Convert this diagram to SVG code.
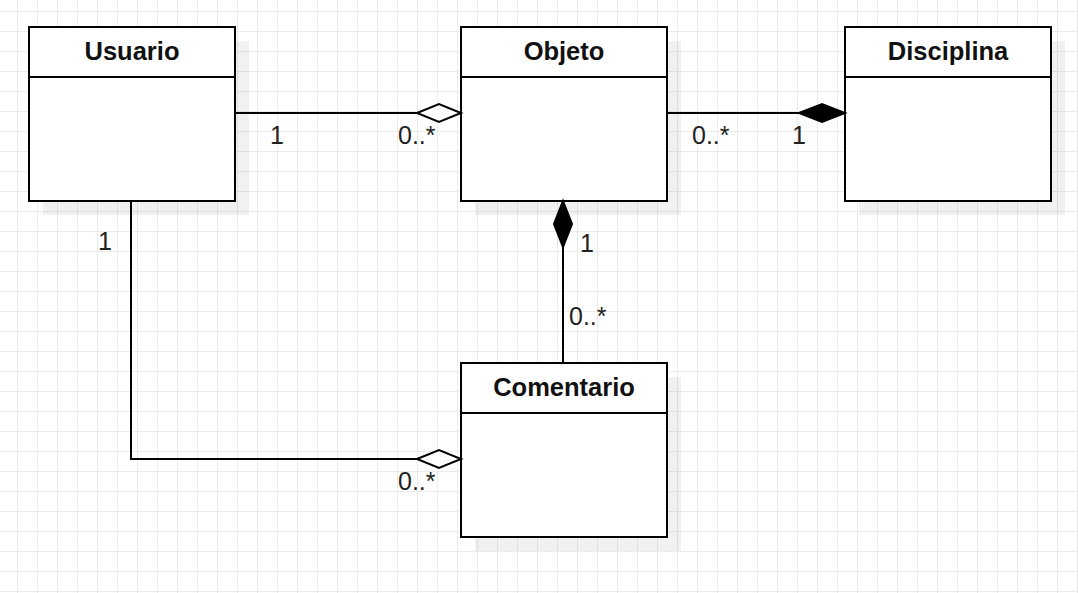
<svg xmlns="http://www.w3.org/2000/svg" width="1078" height="593" viewBox="0 0 1078 593">
<style>
.box{fill:#fff;stroke:#000;stroke-width:2}
.shadow{fill:#000;fill-opacity:0.055}
.hdr{stroke:#000;stroke-width:2}
.title{font-family:"Liberation Sans",Arial,sans-serif;font-weight:bold;font-size:25.5px;fill:#111;text-anchor:middle}
.edge{fill:none;stroke:#000;stroke-width:2}
.open{fill:#fff;stroke:#000;stroke-width:2}
.filled{fill:#000;stroke:#000;stroke-width:2}
.lbl{font-family:"Liberation Sans",Arial,sans-serif;font-size:25px;fill:#222}
</style>
<defs>
<pattern id="grid" width="20" height="20" x="17" y="11" patternUnits="userSpaceOnUse">
<path d="M0 0.5H20M0.5 0V20" stroke="#ebebeb" stroke-width="1" fill="none"/>
</pattern>
</defs>
<rect width="1078" height="593" fill="#fff"/>
<rect width="1078" height="593" fill="url(#grid)"/>

<g id="usuario">
<rect class="shadow" x="43" y="41" width="206" height="174"/>
<rect class="box" x="29" y="27" width="206" height="174"/>
<line class="hdr" x1="29" y1="77" x2="235" y2="77"/>
<text class="title" x="132" y="60">Usuario</text>
</g>
<g id="objeto">
<rect class="shadow" x="475" y="41" width="206" height="174"/>
<rect class="box" x="461" y="27" width="206" height="174"/>
<line class="hdr" x1="461" y1="77" x2="667" y2="77"/>
<text class="title" x="564" y="60">Objeto</text>
</g>
<g id="disciplina">
<rect class="shadow" x="859" y="41" width="206" height="174"/>
<rect class="box" x="845" y="27" width="206" height="174"/>
<line class="hdr" x1="845" y1="77" x2="1051" y2="77"/>
<text class="title" x="948" y="60">Disciplina</text>
</g>
<g id="comentario">
<rect class="shadow" x="475" y="377" width="206" height="174"/>
<rect class="box" x="461" y="363" width="206" height="174"/>
<line class="hdr" x1="461" y1="413" x2="667" y2="413"/>
<text class="title" x="564" y="396">Comentario</text>
</g>

<g id="connectors">
<path class="edge" d="M235 113H417"/>
<polygon class="open" points="417,113 439,104 461,113 439,122"/>
<path class="edge" d="M667 113H799"/>
<polygon class="filled" points="799,113 822,104 845,113 822,122"/>
<path class="edge" d="M563 247V363"/>
<polygon class="filled" points="563,201 572,224 563,247 554,224"/>
<path class="edge" d="M131 201V459H417"/>
<polygon class="open" points="417,459 439,450 461,459 439,468"/>
<text class="lbl" x="277" y="144" text-anchor="middle">1</text>
<text class="lbl" x="398" y="144">0..*</text>
<text class="lbl" x="692" y="144">0..*</text>
<text class="lbl" x="799" y="144" text-anchor="middle">1</text>
<text class="lbl" x="587" y="252" text-anchor="middle">1</text>
<text class="lbl" x="569" y="325">0..*</text>
<text class="lbl" x="105" y="250" text-anchor="middle">1</text>
<text class="lbl" x="398" y="490">0..*</text>
</g>
</svg>
